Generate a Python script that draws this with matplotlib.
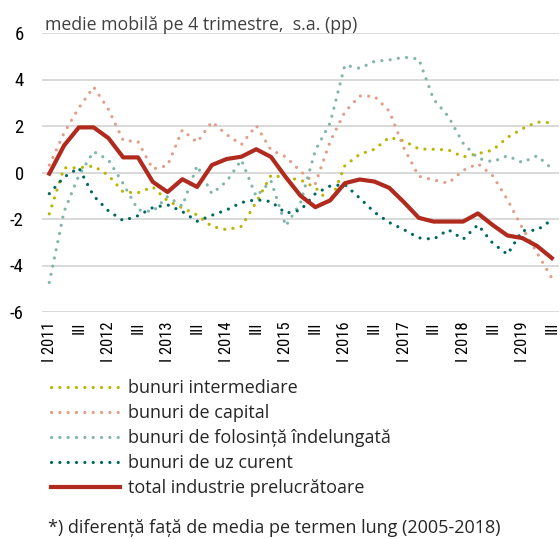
import numpy as np
import matplotlib
matplotlib.use("Agg")
import matplotlib.pyplot as plt
from matplotlib import font_manager

# quarterly data, 2011 Q1 - 2019 Q3
years = list(range(2011, 2020))
n_q = 35

intermediare = [-1.78, 0.20, 0.20, 0.28, -0.12, -0.84, -0.87, -0.62, -1.22, -1.52,
                -1.83, -2.32, -2.46, -2.32, -1.28, -0.12, -0.22, -0.32, -0.65, -1.30,
                0.30, 0.78, 1.00, 1.51, 1.36, 1.01, 1.00, 0.97, 0.67, 0.81,
                0.96, 1.51, 1.88, 2.17, 2.14]
capital = [0.32, 1.70, 2.78, 3.68, 2.72, 1.38, 1.33, 0.15, 0.30, 1.83,
           1.30, 2.18, 1.63, 1.20, 2.02, 0.97, 0.67, 0.05, -0.48, 1.33,
           2.61, 3.29, 3.28, 2.64, 1.04, -0.16, -0.32, -0.46, 0.09, 0.38,
           -0.14, -1.17, -2.38, -3.45, -4.54]
folosinta = [-4.73, -1.68, -0.13, 0.90, 0.54, -0.48, -1.61, -1.68, -1.03, -1.45,
             0.30, -0.91, -0.38, 0.54, -1.03, -0.36, -2.30, -1.30, 0.95, 2.13,
             4.62, 4.48, 4.78, 4.84, 4.96, 4.88, 3.15, 2.41, 1.26, 0.61,
             0.46, 0.72, 0.43, 0.72, 0.17]
uz_curent = [-0.91, -0.20, 0.20, -1.01, -1.65, -2.07, -1.86, -1.51, -1.39, -1.68,
             -2.10, -1.84, -1.61, -1.29, -1.17, -1.25, -1.75, -1.62, -0.91, -0.58,
             -0.52, -1.10, -1.71, -2.15, -2.46, -2.81, -2.87, -2.46, -2.87, -2.25,
             -3.04, -3.52, -2.50, -2.48, -2.04]
total = [-0.05, 1.16, 1.94, 1.94, 1.48, 0.65, 0.65, -0.40, -0.84, -0.29,
         -0.62, 0.32, 0.58, 0.68, 1.00, 0.67, -0.20, -1.00, -1.49, -1.20,
         -0.46, -0.30, -0.39, -0.66, -1.28, -1.95, -2.11, -2.11, -2.11, -1.76,
         -2.26, -2.71, -2.82, -3.16, -3.68]

labels = ["bunuri intermediare", "bunuri de capital",
          "bunuri de folosință îndelungată", "bunuri de uz curent",
          "total industrie prelucrătoare"]
colors = ["#B9B500", "#E39C86", "#80B5AE", "#00695F", "#B02A1E"]

x_labels = []
for i in range(n_q):
    if i % 4 == 0:
        x_labels.append("I " + str(years[i // 4]))
    elif i % 4 == 2:
        x_labels.append("III")
    else:
        x_labels.append("")

names = {f.name for f in font_manager.fontManager.ttflist}
narrow = "Roboto"
for cand in ["Roboto Condensed", "Liberation Sans Narrow", "Open Sans Condensed"]:
    if cand in names:
        narrow = cand
        break
text_font = "Open Sans" if "Open Sans" in names else "Noto Sans"
plt.rcParams["font.family"] = [text_font, "DejaVu Sans"]

W, H = 560, 539
fig = plt.figure(figsize=(W / 100, H / 100), dpi=100)
ax = fig.add_axes([41.9 / W, 1 - 312 / H, (559.2 - 41.9) / W, (312 - 33) / H])

x = np.arange(n_q)
dot = (0, (0.01, 2.6))
for vals, c, lab in zip([intermediare, capital, folosinta, uz_curent], colors[:4], labels[:4]):
    ax.plot(x, vals, color=c, lw=2.3, linestyle=dot, dash_capstyle="round", label=lab)
ax.plot(x, total, color=colors[4], lw=3.0, label=labels[4])

ax.set_xlim(-0.5, n_q - 0.5)
ax.set_ylim(-6, 6)
ax.set_yticks(range(-6, 7, 2))
ax.grid(axis="y", color="#d9d9d9", lw=1.4)
ax.set_axisbelow(True)
for s in ax.spines.values():
    s.set_visible(False)
ax.tick_params(length=0)
ax.set_yticklabels([str(v) for v in range(-6, 7, 2)], family=narrow, fontsize=13.5, color="#000000")
ax.tick_params(axis="y", pad=13)
ax.set_xticks(x)
ax.set_xticklabels(x_labels, rotation=90, family=narrow, fontsize=12, color="#000000",
                   va="top", ha="center")
ax.tick_params(axis="x", pad=7)

fig.text(45 / W, 1 - 30.5 / H, "medie mobilă pe 4 trimestre,  s.a. (pp)",
         fontsize=12.8, color="#404040", va="baseline")

fig.text(48 / W, 1 - 533 / H, "*) diferență față de media pe termen lung (2005-2018)",
         fontsize=13.0, color="#262626", va="baseline")

# legend: fit row pitch (25 px) and position of first row
leg_fs = 13.0
spacing = 0.3
target_pitch = 25.0
for _ in range(3):
    leg = fig.legend(loc="upper left", bbox_to_anchor=(0.1, 0.3), bbox_transform=fig.transFigure,
                     frameon=False, fontsize=leg_fs, handlelength=3.8, handletextpad=0.45,
                     labelspacing=spacing, borderpad=0, borderaxespad=0, labelcolor="#262626")
    fig.canvas.draw()
    r = fig.canvas.get_renderer()
    tb = [t.get_window_extent(r) for t in leg.get_texts()]
    pitch = ((tb[0].y0 + tb[0].y1) - (tb[-1].y0 + tb[-1].y1)) / 2 / 4
    if abs(pitch - target_pitch) < 0.3:
        break
    leg.remove()
    spacing += (target_pitch - pitch) / (leg_fs * 100 / 72)

tb0 = leg.get_texts()[0].get_window_extent(r)
dx = 128 - tb0.x0
dy = (H - 388) - (tb0.y0 + tb0.y1) / 2
leg.set_bbox_to_anchor((0.1 + dx / W, 0.3 + dy / H), transform=fig.transFigure)

fig.savefig("out.png", dpi=100)
